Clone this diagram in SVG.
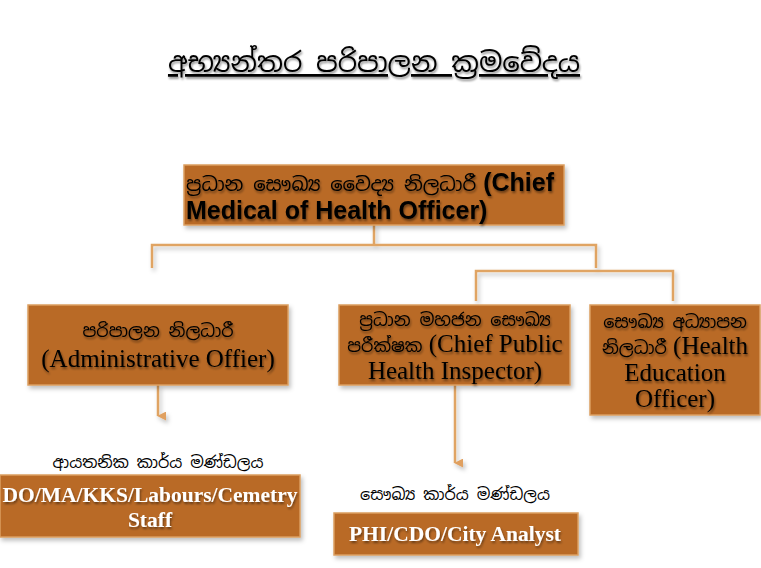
<svg xmlns="http://www.w3.org/2000/svg" width="761" height="568" viewBox="0 0 761 568">
<defs>
<filter id="sh" filterUnits="userSpaceOnUse" x="0" y="0" width="761" height="568">
<feDropShadow dx="2" dy="3" stdDeviation="2" flood-color="#000" flood-opacity="0.25"/>
</filter>
<filter id="tsh" x="-5%" y="-20%" width="110%" height="150%">
<feDropShadow dx="1" dy="2" stdDeviation="1.2" flood-color="#000" flood-opacity="0.45"/>
</filter>
<marker id="ah" viewBox="0 0 10 10" refX="5" refY="9" markerWidth="9" markerHeight="9" orient="auto" markerUnits="userSpaceOnUse">
<path d="M0,0 L10,0 L5,10 Z" fill="#E0A060"/>
</marker>
<style>
.box{fill:#B96A27;stroke:#DB9E60;stroke-width:1.5;filter:url(#sh)}
.con{fill:none;stroke:#E0A463;stroke-width:2.5;filter:url(#sh)}
.si{font-family:"Noto Sans Sinhala","Iskoola Pota","Noto Serif Sinhala","Liberation Serif",serif}
.s{font-size:17.5px}
.t{font-family:"Liberation Serif","Noto Sans Sinhala",serif;font-size:25px;fill:#000;text-anchor:middle;filter:url(#tsh)}
.w{font-family:"Liberation Serif",serif;font-weight:bold;font-size:21.5px;fill:#fff;text-anchor:middle;filter:url(#tsh)}
.lbl{font-family:"Noto Sans Sinhala","Liberation Serif",serif;font-size:16px;fill:#000;text-anchor:middle}
</style>
</defs>
<rect width="761" height="568" fill="#fff"/>
<g id="title" filter="url(#tsh)">
<text x="374" y="72" class="si" font-size="27.5" text-anchor="middle" fill="#000" text-decoration="underline">අභ්‍යන්තර පරිපාලන ක්‍රමවේදය</text>
</g>
<g id="connectors">
<path class="con" d="M374,225 V245 M152,268 V245 H596 V268"/>
<path class="con" d="M476,301 V271 H673 V301"/>
<path class="con" d="M158,385 V416" marker-end="url(#ah)"/>
<path class="con" d="M455,385 V463" marker-end="url(#ah)"/>
</g>
<g id="chief">
<rect class="box" x="184" y="165" width="380" height="60"/>
<text x="186" y="191" font-family="Liberation Sans, sans-serif" font-weight="bold" font-size="25" fill="#000" filter="url(#tsh)"><tspan class="si" font-weight="normal" font-size="19.5">ප්‍රධාන සෞඛ්‍ය වෛද්‍ය නිලධාරී</tspan> (Chief</text>
<text x="186" y="219" font-family="Liberation Sans, sans-serif" font-weight="bold" font-size="25" fill="#000" filter="url(#tsh)">Medical of Health Officer)</text>
</g>
<g id="admin">
<rect class="box" x="28" y="305" width="260" height="80"/>
<text class="t" x="158" y="337"><tspan class="si s">පරිපාලන නිලධාරී</tspan></text>
<text class="t" x="158" y="367">(Administrative Offier)</text>
</g>
<g id="phi">
<rect class="box" x="339" y="305" width="231" height="80"/>
<text class="t" x="455" y="326"><tspan class="si s">ප්‍රධාන මහජන සෞඛ්‍ය</tspan></text>
<text class="t" x="455" y="352"><tspan class="si s">පරීක්ෂක</tspan> (Chief Public</text>
<text class="t" x="455" y="379">Health Inspector)</text>
</g>
<g id="heo">
<rect class="box" x="590" y="305" width="170" height="110"/>
<text class="t" x="675" y="328"><tspan class="si s">සෞඛ්‍ය අධ්‍යාපන</tspan></text>
<text class="t" x="675" y="354"><tspan class="si s">නිලධාරී</tspan> (Health</text>
<text class="t" x="675" y="381">Education</text>
<text class="t" x="675" y="407">Officer)</text>
</g>
<g id="inst-staff">
<text class="lbl" x="158" y="468">ආයතනික කාර්ය මණ්ඩලය</text>
<rect class="box" x="0" y="475" width="300" height="62"/>
<text class="w" x="150" y="502">DO/MA/KKS/Labours/Cemetry</text>
<text class="w" x="150" y="527">Staff</text>
</g>
<g id="health-staff">
<text class="lbl" x="455" y="500">සෞඛ්‍ය කාර්ය මණ්ඩලය</text>
<rect class="box" x="334" y="513" width="244" height="42"/>
<text class="w" x="455" y="541">PHI/CDO/City Analyst</text>
</g>
</svg>
